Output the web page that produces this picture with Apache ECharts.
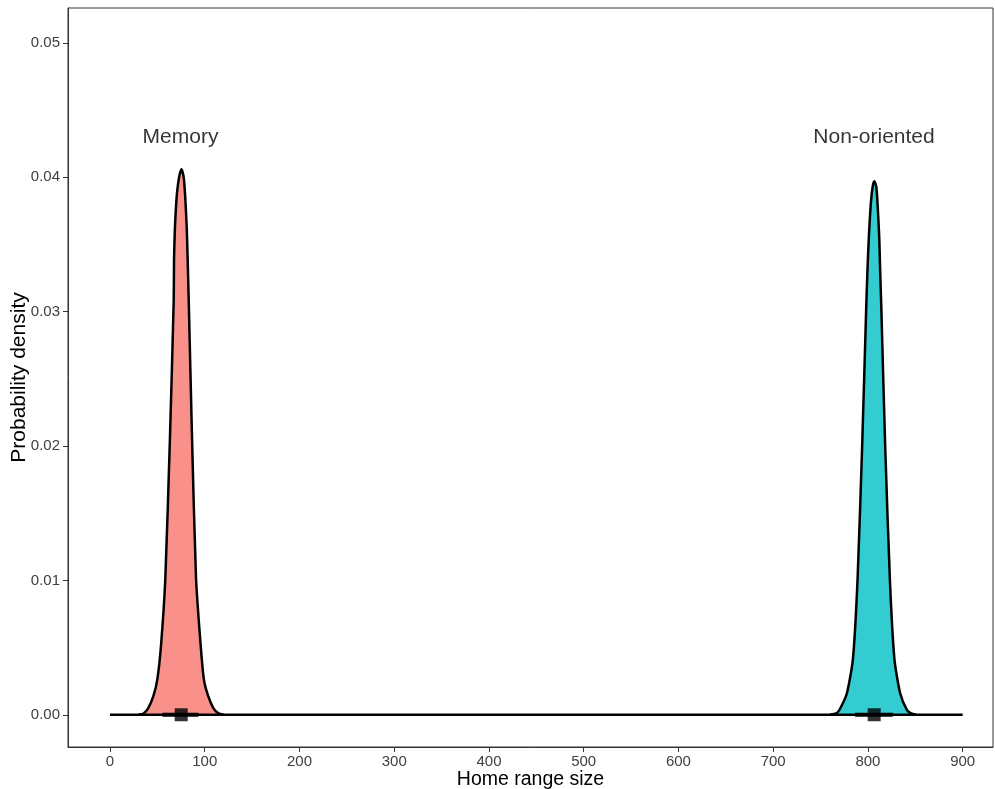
<!DOCTYPE html>
<html>
<head>
<meta charset="utf-8">
<script src="https://cdn.jsdelivr.net/npm/echarts@6/dist/echarts.min.js"></script>
<style>
  html, body { margin: 0; padding: 0; background: #fff; }
  #chart { width: 995px; height: 789px; }
</style>
</head>
<body>
<div id="chart"></div>
<script>
// density curve for "Memory"
const memX = [30, 35.5, 40.4, 45.7, 49.9, 53.8, 58.4, 63.3, 67.3, 67.6, 68.6, 70.7, 73.2, 75.5, 77.6, 79.2, 81.0, 82.0, 83.1, 86.6, 90.8, 95.8, 99.2, 103.8, 109.1, 114.5, 120];
const memY = [0, 0.0001, 0.0005, 0.00136, 0.0026, 0.0051, 0.0101, 0.0206, 0.0309, 0.0339, 0.0363, 0.0388, 0.0401, 0.0406, 0.0401, 0.0388, 0.0363, 0.0339, 0.0309, 0.0206, 0.0102, 0.0051, 0.0026, 0.00136, 0.0005, 0.0001, 0];

// density curve for "Non-oriented"
const nonX = [760, 766.4, 770.0, 777.8, 784.1, 789.0, 793.9, 798.1, 799.5, 801.0, 803.1, 805.0, 806.8, 808.8, 810.1, 811.9, 812.9, 814.2, 818.2, 823.2, 828.0, 834.0, 841.1, 845.6, 851];
const nonY = [0, 0.0001, 0.00037, 0.0016, 0.0041, 0.0100, 0.0200, 0.0301, 0.0331, 0.0356, 0.0381, 0.0393, 0.0397, 0.0393, 0.0381, 0.0356, 0.0331, 0.0301, 0.0200, 0.0100, 0.0041, 0.0016, 0.00037, 0.0001, 0];

// point estimates and intervals
const groups = ['Memory', 'Non-oriented'];
const pointX = [75.2, 806.6];
const lowX = [55.4, 786.5];
const highX = [93.5, 826.3];
const labelY = [0.0430, 0.0430];

const xTicks = [0, 100, 200, 300, 400, 500, 600, 700, 800, 900];
const yTicks = [0, 0.01, 0.02, 0.03, 0.04, 0.05];

const zip = (xs, ys) => xs.map((x, i) => [x, ys[i]]);

const chart = echarts.init(document.getElementById('chart'), null, { renderer: 'canvas' });

const curveSeries = (data, fill) => ({
  type: 'line',
  data: data,
  smooth: 0.2,
  symbol: 'none',
  lineStyle: { color: '#000', width: 2.5 },
  areaStyle: { color: fill, opacity: 1 },
  z: 3
});

const option = {
  animation: false,
  backgroundColor: '#fff',
  textStyle: { fontFamily: 'Liberation Sans, Arial, sans-serif' },
  grid: {
    left: 68, right: 2, top: 8, bottom: 42,
    show: true, borderColor: '#333', borderWidth: 1,
    containLabel: false, outerBoundsMode: 'none'
  },
  xAxis: {
    type: 'value',
    min: -44.3, max: 932,
    splitLine: { show: false },
    axisLine: { show: true, onZero: false, lineStyle: { color: '#333', width: 1 } },
    axisTick: { show: true, length: 5, customValues: xTicks, lineStyle: { color: '#333' } },
    axisLabel: { customValues: xTicks, color: '#404040', fontSize: 15, margin: 7 },
    name: 'Home range size',
    nameLocation: 'middle',
    nameGap: 23,
    nameMoveOverlap: false,
    nameTextStyle: { color: '#000', fontSize: 19.5 }
  },
  yAxis: {
    type: 'value',
    min: -0.0024, max: 0.0526,
    splitLine: { show: false },
    axisLine: { show: true, onZero: false, lineStyle: { color: '#333', width: 1 } },
    axisTick: { show: true, length: 5, customValues: yTicks, lineStyle: { color: '#333' } },
    axisLabel: {
      customValues: yTicks, color: '#404040', fontSize: 15, margin: 8,
      formatter: v => v.toFixed(2)
    },
    name: 'Probability density',
    nameLocation: 'middle',
    nameGap: 38,
    nameMoveOverlap: false,
    nameTextStyle: { color: '#000', fontSize: 21 }
  },
  series: [
    curveSeries(zip(memX, memY), 'rgba(248,118,109,0.8)'),
    curveSeries(zip(nonX, nonY), 'rgba(0,191,196,0.8)'),
    {
      // baseline of the density
      type: 'line',
      data: [[xTicks[0], 0], [xTicks[xTicks.length - 1], 0]],
      symbol: 'none',
      lineStyle: { color: '#000', width: 2.5 },
      z: 4
    },
    // interval bars
    ...groups.map((g, i) => ({
      type: 'line',
      data: [[lowX[i], 0], [highX[i], 0]],
      symbol: 'none',
      lineStyle: { color: '#000', width: 4 },
      z: 5
    })),
    {
      type: 'scatter',
      data: pointX.map(x => [x, 0]),
      symbol: 'rect',
      symbolSize: 13,
      itemStyle: { color: '#000' },
      z: 6
    },
    {
      // group labels
      type: 'scatter',
      data: groups.map((g, i) => ({ name: g, value: [(lowX[i] + highX[i]) / 2, labelY[i]] })),
      symbolSize: 1,
      itemStyle: { color: 'rgba(0,0,0,0)' },
      label: {
        show: true,
        position: 'inside',
        formatter: p => p.name,
        fontSize: 21,
        color: '#000'
      },
      z: 7
    }
  ]
};

chart.setOption(option);
</script>
</body>
</html>
